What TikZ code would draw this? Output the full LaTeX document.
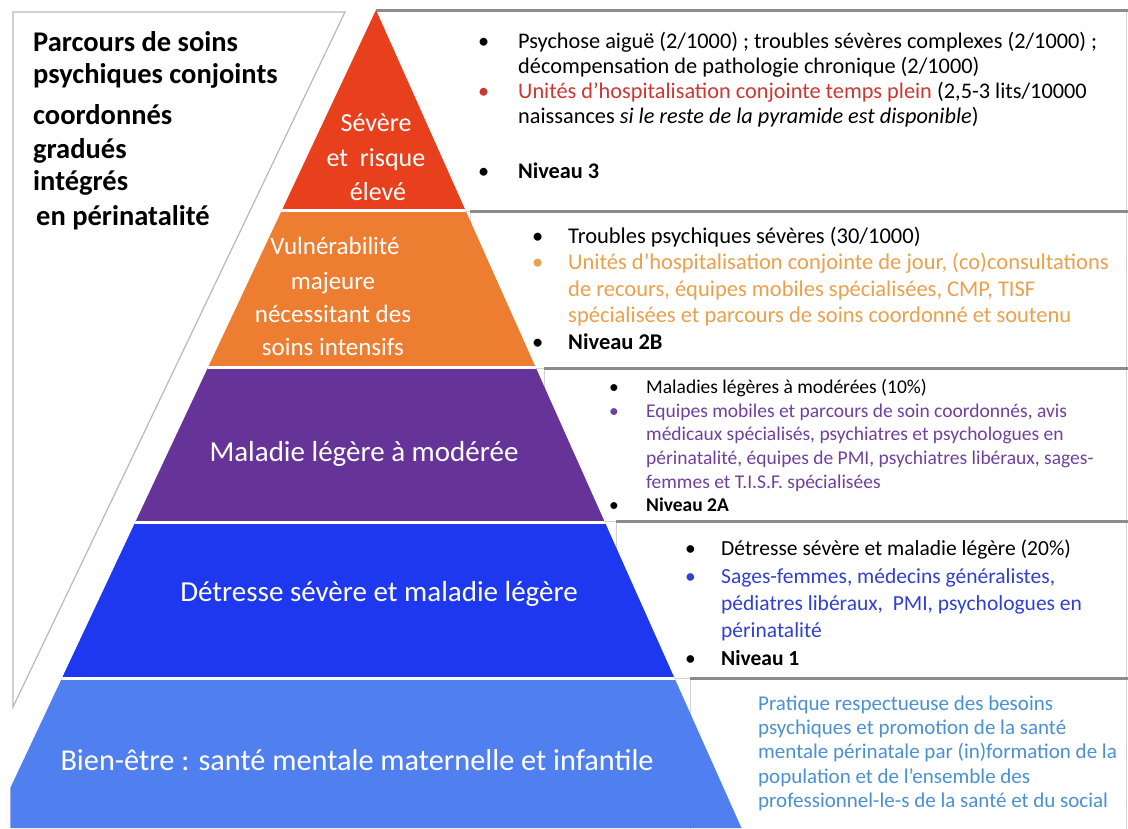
\documentclass[tikz,border=0pt]{standalone}
\usepackage{fontspec}
\setmainfont{Carlito}
\definecolor{bandRed}{RGB}{232,64,28}
\definecolor{bandOrange}{RGB}{237,125,49}
\definecolor{bandPurple}{RGB}{102,51,153}
\definecolor{bandBlue}{RGB}{30,56,240}
\definecolor{bandLight}{RGB}{80,128,240}
\definecolor{txtRed}{RGB}{205,55,50}
\definecolor{txtOrange}{RGB}{235,160,75}
\definecolor{txtPurple}{RGB}{112,64,160}
\definecolor{txtBlue}{RGB}{48,64,210}
\definecolor{txtLight}{RGB}{74,144,210}
\definecolor{rule}{RGB}{140,140,140}
\newcommand{\bul}[2]{\makebox[#1][l]{#2}}
\begin{document}
\begin{tikzpicture}[x=1pt,y=-1pt,
  bandlbl/.style={text=white, anchor=base, inner sep=0},
  titlelbl/.style={anchor=base west, inner sep=0, font=\fontsize{28.5}{33}\selectfont\bfseries},
  boxtxt/.style={anchor=west, inner sep=0, align=left},
  boxframe/.style={draw=gray!35, line width=1},
  boxtop/.style={draw=rule, line width=3}]
\useasboundingbox (0,0) rectangle (1128,828);
\fill[white] (0,0) rectangle (1128,828);

% left title panel
\draw[gray!55, line width=1.2] (13,12) -- (345,12) -- (13,707) -- cycle;
\node[titlelbl] (t1) at (33,51) {Parcours de soins};
\node[titlelbl] (t2) at (33,83) {psychiques conjoints};
\node[titlelbl] (t3) at (33,124) {coordonnés};
\node[titlelbl] (t4) at (33,158) {gradués};
\node[titlelbl] (t5) at (33,190) {intégrés};
\node[titlelbl] (t6) at (36,225) {en périnatalité};

% right boxes
\foreach \xl/\yt/\yb in {376/10/211, 470/211/368, 544/368/521, 616/521/678, 690/678/840}{
  \draw[boxframe] (\xl,\yt) rectangle (1126,\yb);
  \draw[boxtop] (\xl,\yt) -- (1128,\yt);
}

% pyramid
\coordinate (apex) at (376,10);
\coordinate (bl) at (10.3,828);
\coordinate (br) at (741.5,828);
\begin{scope}
  \clip (apex) -- (br) -- (bl) -- (10.3,788) -- cycle;
  \fill[bandRed] (0,0) rectangle (1128,210.5);
  \fill[bandOrange] (0,210.5) rectangle (1128,367.5);
  \fill[bandPurple] (0,367.5) rectangle (1128,522.5);
  \fill[bandBlue] (0,522.5) rectangle (1128,678.5);
  \fill[bandLight] (0,678.5) rectangle (1128,830);
  \foreach \y in {210.5,367.5,522.5,678.5}
    \draw[white, line width=3] (0,\y) -- (1128,\y);
\end{scope}

% band labels
\begin{scope}[font=\fontsize{26}{34}\selectfont]
\node[bandlbl] (r1) at (376,131) {Sévère};
\node[bandlbl] (r2) at (376,166) {et\ \ risque};
\node[bandlbl] (r3) at (378,200) {élevé};
\end{scope}
\begin{scope}[font=\fontsize{25}{34}\selectfont]
\node[bandlbl] (o1) at (335,254) {Vulnérabilité};
\node[bandlbl] (o2) at (333,289) {majeure};
\node[bandlbl] (o3) at (333,322) {nécessitant des};
\node[bandlbl] (o4) at (333,355) {soins intensifs};
\end{scope}
\begin{scope}[font=\fontsize{29}{34}\selectfont]
\node[bandlbl] (p1) at (364,461) {Maladie légère à modérée};
\node[bandlbl] (b1) at (379,601) {Détresse sévère et maladie légère};
\end{scope}
\node[bandlbl, font=\fontsize{30.3}{34}\selectfont] (l1) at (357,770) {Bien-être : santé mentale maternelle et infantile};

% box texts
\node[boxtxt, font=\fontsize{22.3}{25}\selectfont, anchor=north west] (box1) at (478,31) {%
\begin{tabular}{@{}l@{}}
\bul{40pt}{•}Psychose aiguë (2/1000) ; troubles sévères complexes (2/1000) ;\\
\bul{40pt}{}décompensation de pathologie chronique (2/1000)\\
\bul{40pt}{\textcolor{txtRed}{•}}\textcolor{txtRed}{Unités d’hospitalisation conjointe temps plein} (2,5-3 lits/10000\\
\bul{40pt}{}naissances \textit{si le reste de la pyramide est disponible})\\[30pt]
\bul{40pt}{•}\textbf{Niveau 3}
\end{tabular}};

\node[boxtxt, font=\fontsize{22.5}{26.5}\selectfont] (box2) at (532,291) {%
\begin{tabular}{@{}l@{}}
\bul{36pt}{•}Troubles psychiques sévères (30/1000)\\
\color{txtOrange}\bul{36pt}{•}Unités d’hospitalisation conjointe de jour, (co)consultations\\
\color{txtOrange}\bul{36pt}{}de recours, équipes mobiles spécialisées, CMP, TISF\\
\color{txtOrange}\bul{36pt}{}spécialisées et parcours de soins coordonné et soutenu\\
\bul{36pt}{•}\textbf{Niveau 2B}
\end{tabular}};

\node[boxtxt, font=\fontsize{19.5}{23.6}\selectfont] (box3) at (609,448) {%
\begin{tabular}{@{}l@{}}
\bul{37pt}{•}Maladies légères à modérées (10\%)\\
\color{txtPurple}\bul{37pt}{•}Equipes mobiles et parcours de soin coordonnés, avis\\
\color{txtPurple}\bul{37pt}{}médicaux spécialisés, psychiatres et psychologues en\\
\color{txtPurple}\bul{37pt}{}périnatalité, équipes de PMI, psychiatres libéraux, sages-\\
\color{txtPurple}\bul{37pt}{}femmes et T.I.S.F. spécialisées\\
\bul{37pt}{•}\textbf{Niveau 2A}
\end{tabular}};

\node[boxtxt, font=\fontsize{21.5}{27.3}\selectfont] (box4) at (685,605) {%
\begin{tabular}{@{}l@{}}
\bul{36pt}{•}Détresse sévère et maladie légère (20\%)\\
\color{txtBlue}\bul{36pt}{•}Sages-femmes, médecins généralistes,\\
\color{txtBlue}\bul{36pt}{}pédiatres libéraux,\ \ PMI, psychologues en\\
\color{txtBlue}\bul{36pt}{}périnatalité\\
\bul{36pt}{•}\textbf{Niveau 1}
\end{tabular}};

\node[boxtxt, font=\fontsize{21}{24.2}\selectfont, text=txtLight] (box5) at (758,754) {%
\begin{tabular}{@{}l@{}}
Pratique respectueuse des besoins\\
psychiques et promotion de la santé\\
mentale périnatale par (in)formation de la\\
population et de l’ensemble des\\
professionnel-le-s de la santé et du social
\end{tabular}};
\end{tikzpicture}
\end{document}
